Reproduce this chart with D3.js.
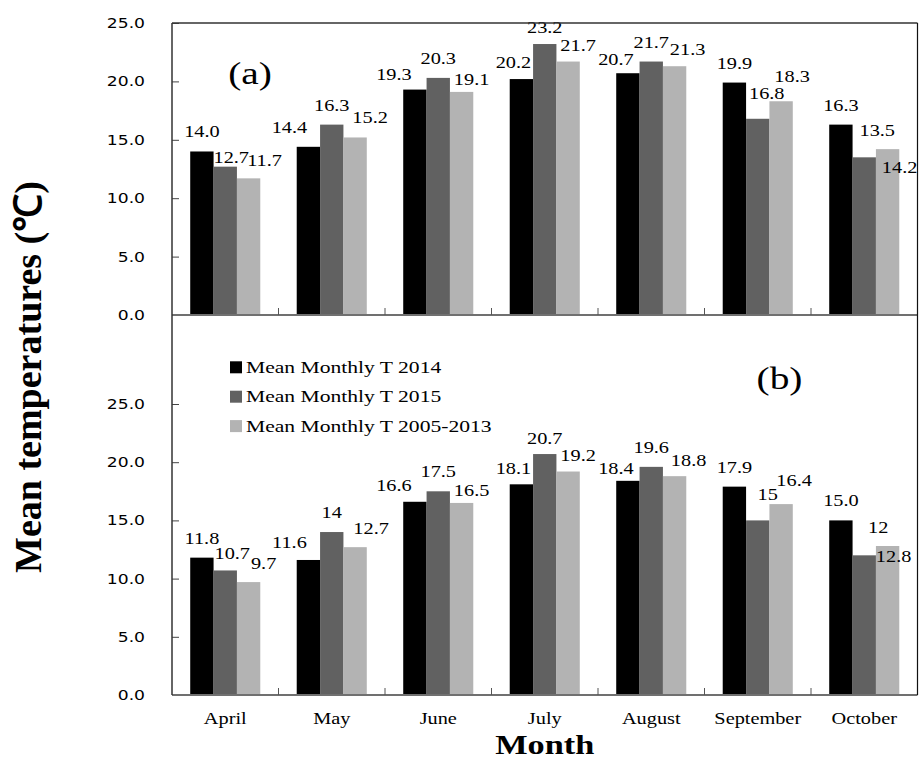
<!DOCTYPE html>
<html>
<head>
<meta charset="utf-8">
<script src="https://cdn.jsdelivr.net/npm/d3@7"></script>
<style>
  body { margin: 0; background: #fff; }
  .serif { font-family: "Liberation Serif", "Times New Roman", serif; fill: #000; }
  .sans { font-family: "DejaVu Sans", Verdana, sans-serif; fill: #000; }
</style>
</head>
<body>
<div id="chart"></div>
<script>
// months on the x axis
const months = ["April", "May", "June", "July", "August", "September", "October"];
const seriesNames = ["Mean Monthly T 2014", "Mean Monthly T 2015", "Mean Monthly T 2005-2013"];

// panel (a), values as printed on the bars
const a2014 = ["14.0", "14.4", "19.3", "20.2", "20.7", "19.9", "16.3"];
const a2015 = ["12.7", "16.3", "20.3", "23.2", "21.7", "16.8", "13.5"];
const aMean = ["11.7", "15.2", "19.1", "21.7", "21.3", "18.3", "14.2"];

// panel (b)
const b2014 = ["11.8", "11.6", "16.6", "18.1", "18.4", "17.9", "15.0"];
const b2015 = ["10.7", "14", "17.5", "20.7", "19.6", "15", "12"];
const bMean = ["9.7", "12.7", "16.5", "19.2", "18.8", "16.4", "12.8"];

const yTicks = [0, 5, 10, 15, 20, 25];

// label nudges [dx, dy] (hand placed labels in the original)
const nudgeA = [
  [[0, 0], [6, 10], [16, 2]],
  [[-19, 0], [0, 0], [15, 0]],
  [[-21, 4], [0, 0], [10, 7]],
  [[-8, 3], [0, 3], [10, 3]],
  [[-12, 6], [0, 0], [13, 3]],
  [[0, 0], [9, -6], [11, -5]],
  [[0, 0], [13, -7], [12, 38]]
];
const nudgeB = [
  [[0, 0], [7, 3], [15, 1]],
  [[-19, 2], [0, 0], [16, 1]],
  [[-21, 3], [0, 0], [10, 7]],
  [[-8, 4], [0, 4], [10, 3]],
  [[-12, 7], [0, 0], [14, 4]],
  [[0, 0], [10, -6], [13, -4]],
  [[0, 0], [14, -8], [6, 30]]
];

const colors = ["#000000", "#616161", "#b3b3b3"];
const W = 919, H = 760;
const SX = 1.27; // horizontal stretch of the text in the original

const svg = d3.select("#chart").append("svg")
  .attr("width", W)
  .attr("height", H);

const left = 172, right = 917.5;
const topA = 23, baseA = 315, baseB = 695;

const x = d3.scaleBand().domain(months).range([left, right]).paddingInner(0).paddingOuter(0);
const xs = d3.scaleBand().domain([0, 1, 2]).range([0, x.bandwidth()])
  .paddingInner(0).paddingOuter(0.78);

const yA = d3.scaleLinear().domain([0, 25]).range([baseA, topA]);
const yB = d3.scaleLinear().domain([0, 25]).range([baseB, 404]);

function stretched(g, tx, ty, txt, cls, size, anchor, weight) {
  return g.append("text")
    .attr("class", cls)
    .attr("transform", "translate(" + tx + "," + ty + ") scale(" + SX + ",1)")
    .attr("text-anchor", anchor || "middle")
    .style("font-size", size + "px")
    .style("font-weight", weight || "normal")
    .text(txt);
}

function panel(series, y, nudge, base) {
  const g = svg.append("g");
  const rows = months.map((m, i) => series.map((s, k) => ({ m: m, k: k, txt: s[i], v: +s[i], n: nudge[i][k] })));
  const flat = rows.flat();

  g.selectAll("rect")
    .data(flat)
    .enter()
    .append("rect")
    .attr("x", d => x(d.m) + xs(d.k))
    .attr("width", xs.bandwidth())
    .attr("y", d => y(d.v))
    .attr("height", d => base - y(d.v))
    .attr("fill", d => colors[d.k]);

  flat.forEach(d => {
    stretched(g, x(d.m) + xs(d.k) + xs.bandwidth() / 2 + d.n[0], y(d.v) - 14 + d.n[1],
      d.txt, "serif", 16);
  });

  // y axis, ticks pointing inward
  const ax = g.append("g")
    .attr("transform", "translate(" + left + ",0)")
    .call(d3.axisLeft(y).tickValues(yTicks).tickSizeInner(-7).tickSizeOuter(0).tickFormat(""));
  ax.select(".domain").remove();
  ax.selectAll("line").attr("stroke", "#444");

  yTicks.forEach(t => {
    stretched(g, 145, y(t) + 5, d3.format(".1f")(t), "sans", 13.5, "end");
  });

  // x axis line and category separators
  g.append("line")
    .attr("x1", left).attr("x2", right)
    .attr("y1", base).attr("y2", base)
    .attr("stroke", "#707070").attr("stroke-width", 2);
  g.selectAll(".sep")
    .data(months.slice(1))
    .enter()
    .append("line")
    .attr("x1", d => x(d)).attr("x2", d => x(d))
    .attr("y1", base).attr("y2", base - 7)
    .attr("stroke", "#555");
}

panel([a2014, a2015, aMean], yA, nudgeA, baseA);
panel([b2014, b2015, bMean], yB, nudgeB, baseB);

// frame
svg.append("line").attr("x1", left).attr("x2", right).attr("y1", topA).attr("y2", topA)
  .attr("stroke", "#333").attr("stroke-width", 1.5);
svg.append("line").attr("x1", left).attr("x2", left).attr("y1", topA).attr("y2", baseB)
  .attr("stroke", "#333").attr("stroke-width", 1.5);
svg.append("line").attr("x1", right).attr("x2", right).attr("y1", topA).attr("y2", baseB)
  .attr("stroke", "#111").attr("stroke-width", 1.2);

// month labels
months.forEach(m => {
  stretched(svg, x(m) + x.bandwidth() / 2, 724, m, "serif", 16);
});

// panel letters
stretched(svg, 250, 84, "(a)", "serif", 31);
stretched(svg, 779.5, 389, "(b)", "serif", 31);

// legend
const leg = svg.append("g");
seriesNames.forEach((s, i) => {
  const cy = 367.3 + i * 29.4;
  leg.append("rect")
    .attr("x", 230).attr("y", cy - 6)
    .attr("width", 12).attr("height", 12)
    .attr("fill", colors[i]);
  stretched(leg, 246, cy + 5.5, s, "serif", 17, "start");
});

// axis titles
stretched(svg, (left + right) / 2, 754, "Month", "serif", 27, "middle", "bold");
svg.append("text")
  .attr("class", "serif")
  .attr("transform", "translate(41,377) rotate(-90)")
  .attr("text-anchor", "middle")
  .style("font-size", "38px")
  .style("font-weight", "bold")
  .text("Mean temperatures (℃)");
</script>
</body>
</html>
